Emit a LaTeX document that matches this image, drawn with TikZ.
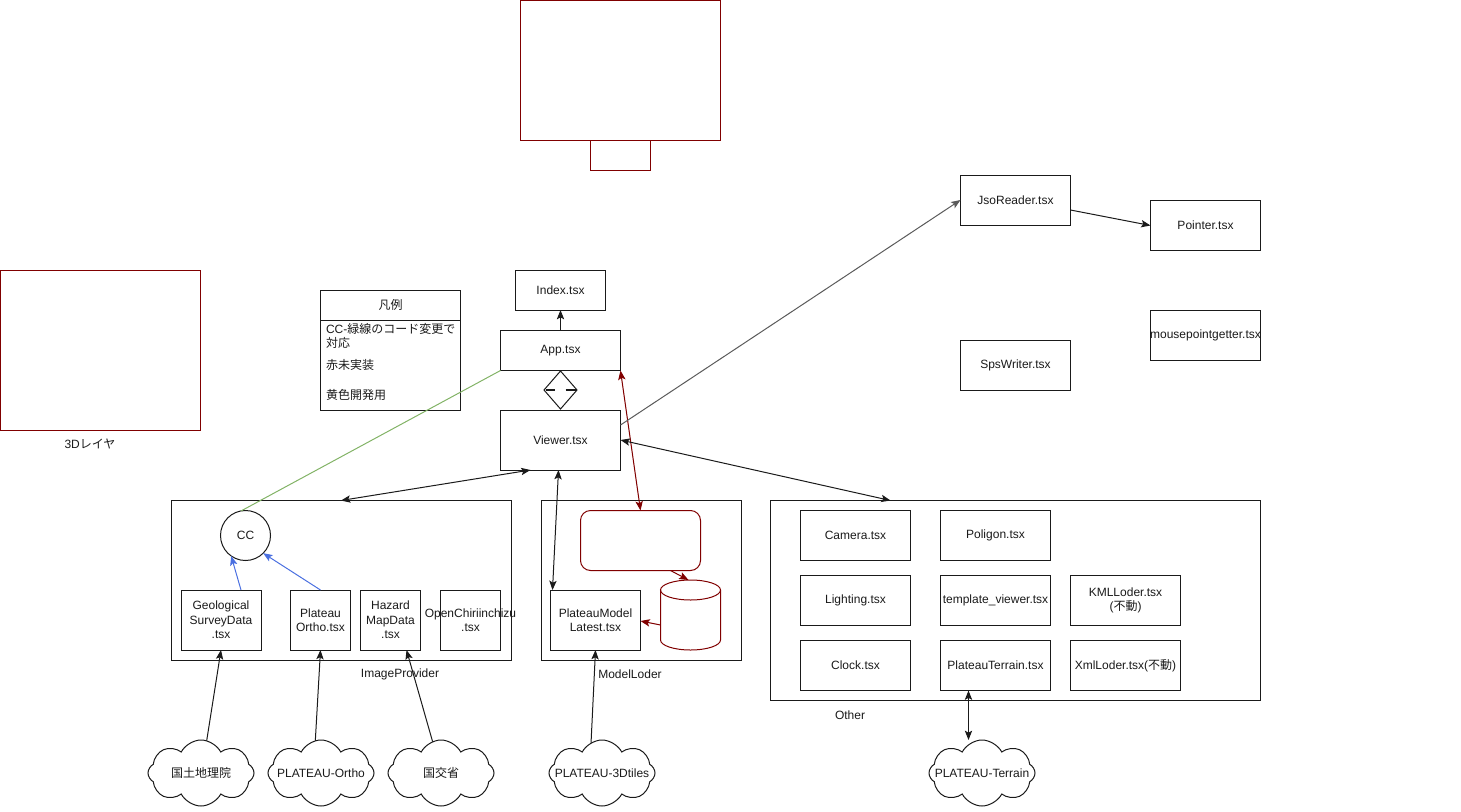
\documentclass[tikz,border=0pt]{standalone}
\usepackage{fontspec}
\setmainfont{Liberation Sans}
\newfontfamily\jpfont{Noto Sans CJK JP}
\usetikzlibrary{arrows.meta,shapes.geometric,shapes.symbols,calc}
\definecolor{darkred}{HTML}{800000}
\definecolor{ccgreen}{HTML}{82B366}
\definecolor{linkblue}{HTML}{4A6FE0}
\definecolor{linkgray}{HTML}{5A5A5A}
\definecolor{ink}{HTML}{1A1A1A}

\begin{document}
\begin{tikzpicture}[x=0.75pt,y=-0.75pt,
  every node/.style={font=\fontsize{9pt}{10.8pt}\selectfont, inner sep=0pt, outer sep=0pt, text=ink},
  w/.style={minimum width=#1*0.75pt},
  h/.style={minimum height=#1*0.75pt},
  box/.style={draw=ink, line width=0.75pt, rectangle, align=center},
  redbox/.style={draw=darkred, line width=0.75pt, rectangle},
  conn/.style={draw=ink, line width=0.75pt, -{Stealth[length=7pt,width=5.5pt,inset=1.5pt]}},
  biconn/.style={draw=ink, line width=0.75pt, {Stealth[length=7pt,width=5.5pt,inset=1.5pt]}-{Stealth[length=7pt,width=5.5pt,inset=1.5pt]}},
  source/.style={cloud, cloud puffs=8, cloud puff arc=125, cloud ignores aspect, draw=ink, line width=0.75pt, minimum width=106*0.75pt, minimum height=66*0.75pt}
]
\useasboundingbox (0,0) rectangle (1461,811);

% unimplemented frames (red)
\node[redbox, w=200, h=140] (topframe) at (620.5,70) {};
\node[redbox, w=60, h=30] (toptab) at (620.5,155) {};
\node[redbox, w=200, h=160] (layer3d) at (100,350) {};
\node (layer3dlabel) at (90,444) {3D{\jpfont レイヤ}};

% legend
\node[box, w=140, h=120] (legend) at (390.5,350.5) {};
\draw[ink, line width=0.75pt] ($(legend.north west)+(0,30)$) -- ($(legend.north east)+(0,30)$);
\node (legendtitle) at (390.5,305) {\jpfont 凡例};
\node[anchor=west, align=left] (legendcc) at (326,336) {CC-{\jpfont 緑線のコード変更で}\\{\jpfont 対応}};
\node[anchor=west] (legendred) at (326,365) {\jpfont 赤未実装};
\node[anchor=west] (legendyellow) at (326,395) {\jpfont 黄色開発用};

% main chain
\node[box, w=90, h=40] (idx) at (560.5,290) {Index.tsx};
\node[box, w=120, h=40] (app) at (560.5,350.5) {App.tsx};
\node[box, w=120, h=60] (viewer) at (560.5,440) {Viewer.tsx};
\node[diamond, draw=ink, line width=0.75pt, w=33, h=38] (dia) at (560.5,390) {};
\draw[ink, line width=2pt] ($(dia.center)+(-15,0)$) -- ($(dia.center)+(-6,0)$);
\draw[ink, line width=2pt] ($(dia.center)+(5,0)$) -- ($(dia.center)+(15,0)$);

% ImageProvider group
\node[box, w=340, h=160] (ip) at (341,580.5) {};
\node (iplabel) at (400,674) {ImageProvider};
\node[draw=ink, line width=0.75pt, circle, minimum size=50*0.75pt] (cc) at (245.5,535.5) {CC};
\node[box, w=80, h=60] (geo) at (221,620) {Geological\\SurveyData\\.tsx};
\node[box, w=60, h=60] (ortho) at (320.5,620) {Plateau\\Ortho.tsx};
\node[box, w=60, h=60] (haz) at (390.5,620) {Hazard\\MapData\\.tsx};
\node[box, w=60, h=60] (ochi) at (470.5,620) {};
\node[align=center] (ochitext) at (ochi.center) {OpenChiriinchizu\\.tsx};

% ModelLoder group
\node[box, w=200, h=160] (ml) at (641,580.5) {};
\node (mllabel) at (630,674) {ModelLoder};
\node[draw=darkred, line width=0.75pt, rounded corners=7.5pt, w=120, h=60] (rr) at (640.5,540.5) {};
\node[w=60, h=70] (cyl) at (690.5,615) {};
\draw[darkred, line width=0.75pt, fill=white]
  ($(cyl.north west)+(0,10)$) -- ($(cyl.south west)+(0,-10)$)
  arc[start angle=180, end angle=360, x radius=22.5pt, y radius=7.5pt]
  -- ($(cyl.north east)+(0,10)$);
\draw[darkred, line width=0.75pt] ($(cyl.north)+(0,10)$) ellipse[x radius=22.5pt, y radius=7.5pt];
\node[box, w=90, h=60] (pml) at (595.5,620) {PlateauModel\\Latest.tsx};

% Other group
\node[box, w=490, h=200] (other) at (1015.5,600.5) {};
\node (otherlabel) at (850,715) {Other};
\node[box, w=110, h=50] (camera) at (855.5,535.5) {Camera.tsx};
\node[box, w=110, h=50] (poligon) at (995.5,535.5) {Poligon.tsx};
\node[box, w=110, h=50] (lighting) at (855.5,600.5) {Lighting.tsx};
\node[box, w=110, h=50] (tview) at (995.5,600.5) {template\_viewer.tsx};
\node[box, w=110, h=50] (kml) at (1125.5,600.5) {KMLLoder.tsx\\({\jpfont 不動})};
\node[box, w=110, h=50] (clock) at (855.5,665.5) {Clock.tsx};
\node[box, w=110, h=50] (pterrain) at (995.5,665.5) {PlateauTerrain.tsx};
\node[box, w=110, h=50] (xml) at (1125.5,665.5) {};
\node (xmltext) at (xml.center) {XmlLoder.tsx({\jpfont 不動})};

% right-hand modules
\node[box, w=110, h=50] (jso) at (1015.5,200) {JsoReader.tsx};
\node[box, w=110, h=50] (pointer) at (1205.5,225.5) {Pointer.tsx};
\node[box, w=110, h=50] (sps) at (1015.5,365) {SpsWriter.tsx};
\node[box, w=110, h=50] (mpg) at (1205.5,335.5) {};
\node (mpgtext) at (mpg.center) {mousepointgetter.tsx};

% data sources
\node[source] (c1) at (201,773) {};
\node (c1text) at (c1.center) {\jpfont 国土地理院};
\node[source] (c2) at (321,773) {};
\node (c2text) at (c2.center) {PLATEAU-Ortho};
\node[source] (c3) at (441,773) {};
\node (c3text) at (c3.center) {\jpfont 国交省};
\node[source] (c4) at (602,773) {};
\node (c4text) at (c4.center) {PLATEAU-3Dtiles};
\node[source] (c5) at (982,773) {};
\node (c5text) at (c5.center) {PLATEAU-Terrain};

% connectors
\draw[conn] (app.north) -- (idx.south);
\draw[ccgreen, line width=0.75pt] (app.south west) -- (cc.100);
\draw[darkred, line width=0.75pt, {Stealth[length=7pt,width=5.5pt,inset=1.5pt]}-{Stealth[length=7pt,width=5.5pt,inset=1.5pt]}] (app.south east) -- (rr.north);
\draw[darkred, line width=0.75pt, -{Stealth[length=7pt,width=5.5pt,inset=1.5pt]}] ($(rr.south)+(30,0)$) -- ($(cyl.north)+(-2,0)$);
\draw[darkred, line width=0.75pt, -{Stealth[length=7pt,width=5.5pt,inset=1.5pt]}] ($(cyl.west)+(0,10)$) -- ($(pml.east)+(0,1)$);
\draw[biconn] ($(viewer.south)+(-30,0)$) -- (ip.north);
\draw[biconn] ($(viewer.south)+(-2,0)$) -- ($(pml.north west)+(2,0)$);
\draw[biconn] (viewer.east) -- ($(other.north west)+(120,0)$);
\draw[conn, draw=linkgray] ($(viewer.east)+(0,-15)$) -- (jso.west);
\draw[conn] ($(jso.east)+(0,10)$) -- (pointer.west);
\draw[conn, draw=linkblue] ($(geo.north)+(20,0)$) -- (cc.235);
\draw[conn, draw=linkblue] (ortho.north) -- (cc.-45);
\draw[conn] (c1.80) -- (geo.south);
\draw[conn] (c2.100) -- (ortho.south);
\draw[conn] (c3.105) -- ($(haz.south)+(16,0)$);
\draw[conn] (c4.110) -- (pml.south);
\draw[biconn] ($(pterrain.south)+(-27,0)$) coordinate (pts) -- (pts |- c5.north);
\end{tikzpicture}
\end{document}
